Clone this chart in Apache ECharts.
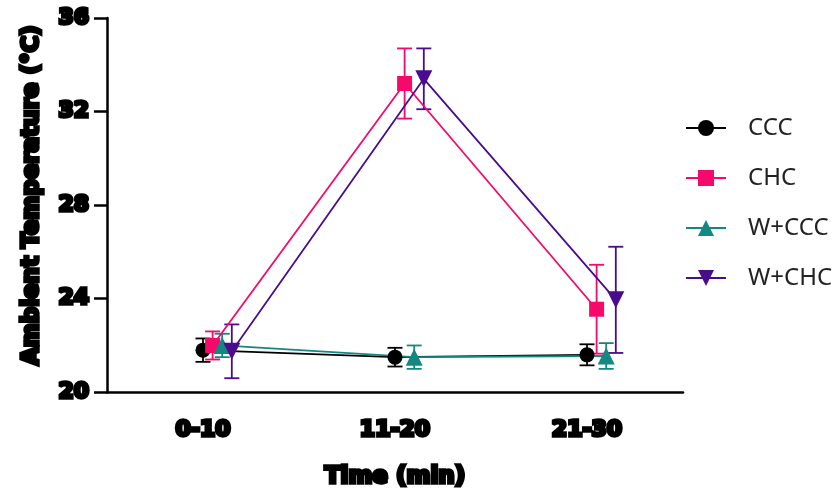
<!DOCTYPE html>
<html>
<head>
<meta charset="utf-8">
<script src="https://cdn.jsdelivr.net/npm/echarts@6/dist/echarts.min.js"></script>
<style>html,body{margin:0;padding:0;background:#fff}#c{width:837px;height:495px}</style>
</head>
<body>
<div id="c"></div>
<script>
// ---- data ----
const categories = ['0-10', '11-20', '21-30'];
const seriesNames = ['CCC', 'CHC', 'W+CCC', 'W+CHC'];
const cccMean = [21.8, 21.5, 21.6];
const cccErr = [0.5, 0.4, 0.45];
const chcMean = [22.0, 33.2, 23.55];
const chcErr = [0.6, 1.5, 1.9];
const wcccMean = [22.0, 21.5, 21.55];
const wcccErr = [0.5, 0.5, 0.55];
const wchcMean = [21.75, 33.4, 23.95];
const wchcErr = [1.15, 1.3, 2.27];
const yTicks = [20, 24, 28, 32, 36];

// ---- style ----
const colors = ['#000000', '#F5096B', '#138782', '#4A0C8C'];
const symbols = ['circle', 'rect', 'triangle', 'triangle'];
const rotates = [0, 0, 0, 180];
const sizes = [15, 15, 17, 17];
const dodge = [0, 0.05, 0.1, 0.15];

const means = [cccMean, chcMean, wcccMean, wchcMean];
const errs = [cccErr, chcErr, wcccErr, wchcErr];

const bold = {
  fontFamily: 'DejaVu Sans', fontWeight: 'bold', color: '#000',
  textBorderColor: '#000', textBorderWidth: 3.5
};

const series = [];
seriesNames.forEach((name, s) => {
  const pts = categories.map((c, i) => [i + dodge[s], means[s][i], errs[s][i]]);
  series.push({
    type: 'custom', name: name + '_err', xAxisIndex: 1, yAxisIndex: 0, z: 1,
    silent: true, legendHoverLink: false,
    data: pts,
    renderItem: function (params, api) {
      const x = api.value(0), m = api.value(1), e = api.value(2);
      const top = api.coord([x, m + e]);
      const bot = api.coord([x, m - e]);
      const hw = 7.5;
      const st = { stroke: colors[s], lineWidth: 1.8 };
      return {
        type: 'group', children: [
          { type: 'line', shape: { x1: top[0], y1: top[1], x2: bot[0], y2: bot[1] }, style: st },
          { type: 'line', shape: { x1: top[0] - hw, y1: top[1], x2: top[0] + hw, y2: top[1] }, style: st },
          { type: 'line', shape: { x1: bot[0] - hw, y1: bot[1], x2: bot[0] + hw, y2: bot[1] }, style: st }
        ]
      };
    }
  });
  series.push({
    type: 'line', name: name, xAxisIndex: 1, yAxisIndex: 0, z: 3,
    data: pts.map(p => [p[0], p[1]]),
    symbol: symbols[s], symbolSize: sizes[s], symbolRotate: rotates[s],
    showAllSymbol: true,
    lineStyle: { color: colors[s], width: 1.8 },
    itemStyle: { color: colors[s], borderWidth: 0 },
    emphasis: { disabled: true },
    animation: false
  });
});

const chart = echarts.init(document.getElementById('c'), null, { renderer: 'canvas' });
chart.setOption({
  animation: false,
  backgroundColor: '#fff',
  grid: { left: 107, right: 154, top: 18, bottom: 102, containLabel: false },
  legend: {
    data: seriesNames,
    orient: 'vertical', left: 680, top: 111,
    itemWidth: 40, itemHeight: 20, itemGap: 26,
    textStyle: { fontFamily: 'Noto Sans', fontSize: 24, color: '#222', lineHeight: 20, padding: [0, 0, 0, 17] },
    selectedMode: false
  },
  xAxis: [
    {
      type: 'category', data: categories, boundaryGap: true,
      axisLine: { lineStyle: { color: '#000', width: 2.5 } },
      axisTick: { alignWithLabel: true, length: 14, lineStyle: { color: '#000', width: 2.5 } },
      axisLabel: Object.assign({ fontSize: 22, margin: 27 }, bold),
      name: 'Time (min)', nameLocation: 'middle', nameGap: 73,
      nameTextStyle: Object.assign({ fontSize: 23 }, bold),
      splitLine: { show: false }
    },
    {
      type: 'value', min: -0.5, max: 2.5, show: false, splitLine: { show: false }
    }
  ],
  yAxis: {
    type: 'value', min: yTicks[0], max: yTicks[yTicks.length - 1], interval: yTicks[1] - yTicks[0],
    axisLine: { show: true, onZero: false, lineStyle: { color: '#000', width: 2.5 } },
    axisTick: { show: true, length: 13, lineStyle: { color: '#000', width: 2.5 } },
    axisLabel: Object.assign({ fontSize: 22, margin: 18 }, bold),
    splitLine: { show: false },
    name: 'Ambient Temperature (°C)', nameLocation: 'middle', nameGap: 60, nameRotate: 90,
    nameTextStyle: Object.assign({ fontSize: 23, padding: [0, 0, 0, 20] }, bold)
  },
  series: series
});
</script>
</body>
</html>
